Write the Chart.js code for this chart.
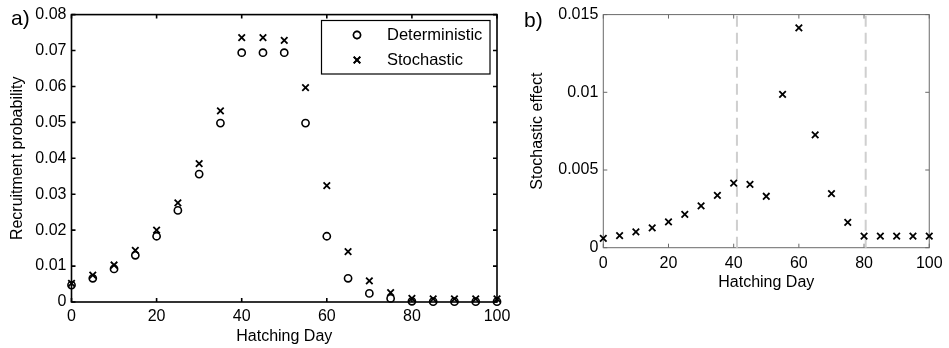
<!DOCTYPE html>
<html><head><meta charset="utf-8">
<script src="https://cdn.jsdelivr.net/npm/chart.js@4/dist/chart.umd.min.js"></script>
<style>
html,body{margin:0;padding:0;background:#fff;}
#wrap{position:relative;width:949px;height:348px;overflow:hidden;background:#fff;}
#ca{position:absolute;left:0;top:0;width:520px;height:348px;}
#cb{position:absolute;left:520px;top:0;width:429px;height:348px;}
.lbl{position:absolute;font-family:"Liberation Sans",Arial,sans-serif;font-size:21px;color:#000;line-height:1;}
</style></head><body>
<div id="wrap">
<canvas id="ca" width="520" height="348"></canvas>
<canvas id="cb" width="429" height="348"></canvas>
<div class="lbl" style="left:11px;top:7px">a)</div>
<div class="lbl" style="left:524px;top:9px">b)</div>
</div>
<script>
// ---- data ----
const days = [0,5,10,15,20,25,30,35,40,45,50,55,60,65,70,75,80,85,90,95,100];
const deterministic = [0.0047,0.0066,0.0092,0.0130,0.0183,0.0255,0.0356,0.0498,0.0694,0.0694,0.0694,0.0498,0.0183,0.0066,0.0024,0.0010,0.0002,0.0001,0.0001,0.0001,0.0001];
const stochastic = [0.0052,0.0075,0.0103,0.0144,0.0200,0.0276,0.0385,0.0532,0.0736,0.0736,0.0728,0.0597,0.0324,0.0140,0.0059,0.0026,0.0010,0.0009,0.0009,0.0009,0.0009];
const stochasticEffect = [0.0006,0.00077,0.00102,0.00128,0.00166,0.00214,0.00269,0.00337,0.00416,0.00408,0.00331,0.00986,0.01415,0.00726,0.00348,0.00163,0.00075,0.00075,0.00075,0.00075,0.00075];
const markerDays = [41, 80.5];
const xTicks = [0,20,40,60,80,100];
const yTicksA = [0,0.01,0.02,0.03,0.04,0.05,0.06,0.07,0.08];
const yTickLabelsA = ['0','0.01','0.02','0.03','0.04','0.05','0.06','0.07','0.08'];
const yTicksB = [0,0.005,0.01,0.015];
const yTickLabelsB = ['0','0.005','0.01','0.015'];
const seriesNames = ['Deterministic','Stochastic'];

Chart.defaults.font.family = '"Liberation Sans", Arial, sans-serif';
Chart.defaults.color = '#000';

const pts = (xs, ys) => xs.map((d,i)=>({x:d, y:ys[i]}));

const framePlugin = {
  id:'frame',
  beforeDatasetsDraw(chart, args, o){
    const {ctx, chartArea:a, scales:{x,y}} = chart;
    ctx.save();
    ctx.strokeStyle = o.color; ctx.lineWidth = o.width;
    ctx.beginPath();
    x.ticks.forEach(t=>{const p=x.getPixelForValue(t.value);
      ctx.moveTo(p,a.bottom); ctx.lineTo(p,a.bottom-o.tick);
      ctx.moveTo(p,a.top); ctx.lineTo(p,a.top+o.tick);});
    y.ticks.forEach(t=>{const p=y.getPixelForValue(t.value);
      ctx.moveTo(a.left,p); ctx.lineTo(a.left+o.tick,p);
      ctx.moveTo(a.right,p); ctx.lineTo(a.right-o.tick,p);});
    ctx.stroke();
    ctx.strokeRect(a.left, a.top, a.right-a.left, a.bottom-a.top);
    ctx.restore();
  }
};

const legendPlugin = {
  id:'boxLegend',
  afterDatasetsDraw(chart, args, o){
    if(!o.show) return;
    const ctx = chart.ctx;
    ctx.save();
    ctx.fillStyle='#fff';
    ctx.fillRect(o.x, o.y, o.w, o.h);
    ctx.strokeStyle='#000'; ctx.lineWidth=1.2;
    ctx.strokeRect(o.x, o.y, o.w, o.h);
    chart.data.datasets.forEach((ds,i)=>{
      const cy = o.y + o.row0 + i*o.rowH;
      Chart.helpers.drawPoint(ctx, {pointStyle: ds.pointStyle, radius: ds.pointRadius, borderWidth: ds.borderWidth}, o.x + o.mx, cy);
      ctx.strokeStyle = ds.borderColor; ctx.lineWidth = ds.borderWidth;
      ctx.stroke();
      ctx.fillStyle='#000';
      ctx.font = '16.5px "Liberation Sans", Arial, sans-serif';
      ctx.textBaseline='middle'; ctx.textAlign='left';
      ctx.fillText(ds.label, o.x + o.tx, cy);
    });
    ctx.restore();
  }
};

function scales(yTicks, yLabels, ymax, ytitle, yW, xH, xPad, xTitlePadB, yTitlePadT){
  return {
    x:{type:'linear', min:0, max:100,
      afterBuildTicks:s=>{s.ticks = xTicks.map(v=>({value:v}));},
      afterFit:s=>{s.height = xH;},
      grid:{display:false, drawTicks:false}, border:{display:false},
      ticks:{padding:xPad, font:{size:16}, maxRotation:0, callback:v=>String(v)},
      title:{display:true, text:'Hatching Day', font:{size:16}, padding:{top:0,bottom:xTitlePadB}}
    },
    y:{type:'linear', min:0, max:ymax,
      afterBuildTicks:s=>{s.ticks = yTicks.map(v=>({value:v}));},
      afterFit:s=>{s.width = yW;},
      grid:{display:false, drawTicks:false}, border:{display:false},
      ticks:{padding:5, font:{size:16}, callback:(v,i)=>yLabels[i]},
      title:{display:true, text:ytitle, font:{size:16}, padding:{top:yTitlePadT,bottom:0}}
    }
  };
}

new Chart(document.getElementById('ca'), {
  type:'scatter',
  data:{datasets:[
    {label:seriesNames[0], data:pts(days, deterministic), pointStyle:'circle', pointRadius:3.6, borderWidth:1.6, borderColor:'#000', backgroundColor:'rgba(0,0,0,0)', clip:false},
    {label:seriesNames[1], data:pts(days, stochastic), pointStyle:'crossRot', pointRadius:4.6, borderWidth:1.8, borderColor:'#000', backgroundColor:'#000', clip:false}
  ]},
  options:{responsive:false, animation:false, events:[],
    layout:{padding:{left:0, top:13.5, right:23, bottom:0}},
    scales:scales(yTicksA, yTickLabelsA, 0.08, 'Recruitment probability', 71.5, 46, 5.4, 1.7, 8.4),
    plugins:{legend:{display:false}, tooltip:{enabled:false},
      frame:{color:'#000', width:1.6, tick:4},
      boxLegend:{show:true, x:321.5, y:20.5, w:168.5, h:53.5, row0:14.5, rowH:25, mx:35.5, tx:65.5}}
  },
  plugins:[framePlugin, legendPlugin]
});

const dashSets = markerDays.map(d=>({label:'', data:[{x:d,y:0},{x:d,y:0.015}], showLine:true, pointRadius:0, borderColor:'#cfcfcf', borderWidth:2, borderDash:[11,6], order:2, clip:false}));

new Chart(document.getElementById('cb'), {
  type:'scatter',
  data:{datasets:[
    ...dashSets,
    {label:'Stochastic effect', data:pts(days, stochasticEffect), pointStyle:'crossRot', pointRadius:4.6, borderWidth:1.8, borderColor:'#000', backgroundColor:'#000', order:1, clip:false}
  ]},
  options:{responsive:false, animation:false, events:[],
    layout:{padding:{left:0, top:13.3, right:14, bottom:0}},
    scales:scales(yTicksB, yTickLabelsB, 0.015, 'Stochastic effect', 83.3, 100.3, 6.4, 55.4, 7.7),
    plugins:{legend:{display:false}, tooltip:{enabled:false},
      frame:{color:'#6a6a6a', width:1, tick:4},
      boxLegend:{show:false}}
  },
  plugins:[framePlugin, legendPlugin]
});
</script>
</body></html>
